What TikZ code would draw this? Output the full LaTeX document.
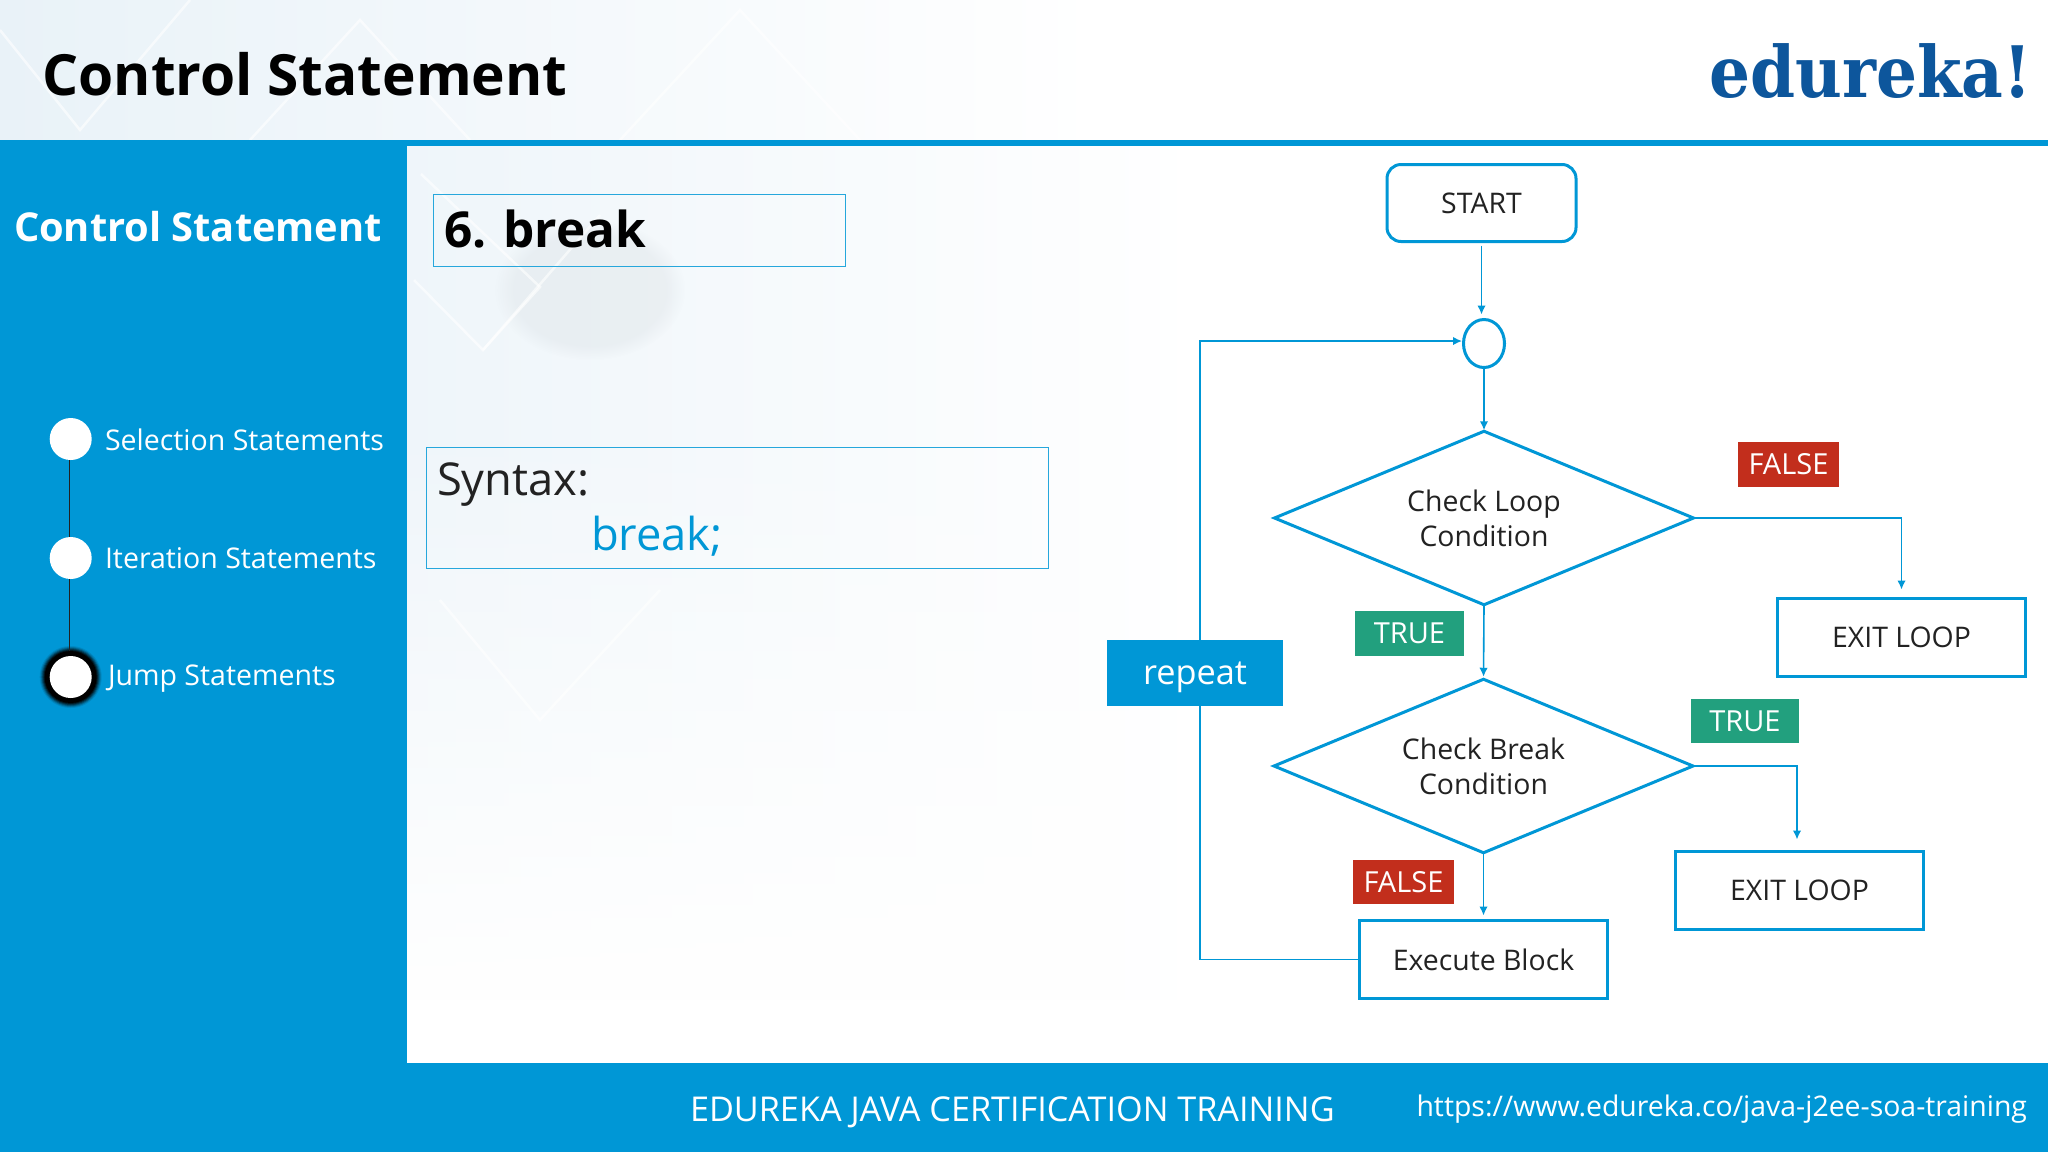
\documentclass[tikz,border=0pt]{standalone}
\usepackage{fontspec}
\setmainfont{Open Sans}
\newfontfamily\logofont[FakeStretch=0.908]{DejaVu Serif}
\usetikzlibrary{arrows.meta,shapes.geometric,calc,fadings}
\definecolor{edublue}{HTML}{0097D6}
\definecolor{edured}{HTML}{C22E1C}
\definecolor{edugreen}{HTML}{22A07E}
\definecolor{edulogo}{HTML}{0D569C}
\definecolor{edutext}{HTML}{222222}
\definecolor{palebg}{HTML}{E9F2F8}
\newcommand{\fs}[1]{\fontsize{#1}{#1}\selectfont}
\tikzfading[name=fadedown,top color=transparent!100,bottom color=transparent!0]
\tikzset{
  x=1pt,y=-1pt,
  every node/.style={inner sep=0pt,outer sep=0pt},
  conn/.style={draw=edublue,line width=1.6pt,-{Latex[length=9pt,width=8.5pt]}},
  boxed/.style={draw=edublue,line width=3pt,fill=white,text=edutext,font=\fs{28.4}},
  decision/.style={diamond,aspect=2.4,minimum width=419pt,minimum height=173.5pt,draw=edublue,line width=3pt,fill=white,text=edutext,font=\fs{28.4},align=center},
  tagbox/.style={text=white,font=\fs{29},anchor=center},
  textframe/.style={draw=edublue!85,line width=1pt},
  sidedot/.style={circle,fill=white,minimum size=42pt},
  sidelabel/.style={anchor=base west,text=white,font=\fs{28.5}},
  deco/.style={draw=white,line width=2.5pt,opacity=.6}
}
\begin{document}
\begin{tikzpicture}
\useasboundingbox (0,0) rectangle (2048,1152);
\fill[white] (0,0) rectangle (2048,1152);
% faint backdrop
\shade[left color=palebg,right color=white] (0,0) rectangle (1100,140);
\shade[left color=palebg!75,right color=white] (407,146) rectangle (1200,1063);
\fill[white,path fading=fadedown] (407,420) rectangle (1200,1000);
\fill[white] (407,1000) rectangle (1200,1063);
\fill[palebg!80!gray,opacity=.3,path fading=circle with fuzzy edge 20 percent] (590,290) ellipse[x radius=95,y radius=70];
\draw[deco] (414,280) -- (483,350) -- (600,215);
\draw[deco] (421,174) -- (540,287) -- (483,350);
\draw[deco] (0,30) -- (80,130) -- (190,0);
\draw[deco] (250,140) -- (360,20) -- (470,140);
\draw[deco] (620,140) -- (740,10) -- (860,140);
\draw[deco] (440,600) -- (540,720) -- (660,590);
% structure
\fill[edublue] (0,140) rectangle (2048,146);
\fill[edublue] (0,146) rectangle (407,1152);
\fill[edublue] (0,1063) rectangle (2048,1152);
% header
\node[anchor=base west,font=\fs{56.8}\bfseries,text=black] (title) at (42.5,95.5) {Control Statement};
\node[anchor=base east,font=\logofont\fs{71}\bfseries,text=edulogo] (logo) at (2032,97) {edureka!};
% sidebar
\node[anchor=base west,font=\fs{39.8}\bfseries,text=white] (sidehead) at (14,241) {Control Statement};
\foreach \r/\m in {31/10,30/25,29/45,28/65,27/85,26/100}{
  \fill[black!\m!edublue] (70.7,677) circle[radius=\r];
}
\node[sidedot] (d1) at (70.7,439) {};
\node[sidedot] (d2) at (70.7,558) {};
\node[sidedot] (d3) at (70.7,677) {};
\draw[edutext,line width=1.5pt] (d1.south) ++(-1,0) -- ($(d2.north)+(-1,0)$);
\draw[edutext,line width=1.5pt] (d2.south) ++(-1,0) -- ($(d3.north)+(-1,-5)$);
\node[sidelabel] (l1) at (105,450) {Selection Statements};
\node[sidelabel] (l2) at (105,568) {Iteration Statements};
\node[sidelabel] (l3) at (108,685) {Jump Statements};
% text frames
\draw[textframe] (433.7,194.4) rectangle (845,266.7);
\node[anchor=base west,font=\fs{49.5}\bfseries,text=black] (brk) at (444,247.5) {6. break};
\draw[textframe] (426.5,447) rectangle (1048,568);
\node[anchor=base west,font=\fs{45.3},text=edutext] (syn) at (437,495.5) {Syntax:};
\node[anchor=base west,font=\fs{45.3},text=edublue] (brkcode) at (591,550) {break;};
% flowchart nodes
\node[boxed,rounded corners=14pt,minimum width=189pt,minimum height=77pt] (start) at (1481.5,203) {START};
\node[ellipse,draw=edublue,line width=3pt,fill=white,minimum width=41pt,minimum height=48pt] (circ) at (1484,343.5) {};
\node[decision] (d1c) at (1484,518) {Check Loop\\[6.5pt]Condition};
\node[decision] (d2c) at (1483.5,766) {Check Break\\[6.5pt]Condition};
\node[boxed,minimum width=248pt,minimum height=78pt] (exit1) at (1901.5,637.5) {EXIT LOOP};
\node[boxed,minimum width=248pt,minimum height=78pt] (exit2) at (1799.5,890.5) {EXIT LOOP};
\node[boxed,minimum width=248pt,minimum height=78pt] (exec) at (1483.5,959.5) {Execute Block};
\coordinate (loopc) at (1200,341);
% connectors
\draw[conn,shorten <=4pt,shorten >=5pt] (start.south) -- (start.south |- circ.north);
\draw[conn,shorten >=1pt] (circ.south) -- (d1c.north);
\draw[conn] (d1c.east) -| ($(exit1.north)+(0,-9)$);
\draw[conn,shorten >=2.5pt] (d1c.south) -- (d2c.north);
\draw[conn] (d2c.east) -| ($(exit2.north)+(-2.5,-12)$);
\draw[conn,shorten >=5pt] (d2c.south) -- (exec.north);
\draw[conn,shorten >=1.5pt] (exec.west) -- (exec.west -| loopc) -- (loopc) -- (circ.west |- loopc);
% tags
\node[fill=edublue,text=white,font=\fs{34.3},minimum width=176pt,minimum height=66.5pt,text height=22pt,text depth=0pt] (rep) at (1195,673) {repeat};
\node[fill=edured,tagbox,minimum width=101pt,minimum height=45pt] (f1) at (1788.5,464.5) {FALSE};
\node[fill=edugreen,tagbox,minimum width=109pt,minimum height=45pt] (t1) at (1409.5,633.5) {TRUE};
\node[fill=edugreen,tagbox,minimum width=108pt,minimum height=44.5pt] (t2) at (1745,721) {TRUE};
\node[fill=edured,tagbox,minimum width=101pt,minimum height=44.5pt] (f2) at (1403.5,882) {FALSE};
% footer
\node[anchor=base west,text=white,font=\fs{34.2}] (foot) at (690,1121) {EDUREKA JAVA CERTIFICATION TRAINING};
\node[anchor=base east,text=white,font=\fs{28.4}] (url) at (2027,1116) {https://www.edureka.co/java-j2ee-soa-training};
\end{tikzpicture}
\end{document}
